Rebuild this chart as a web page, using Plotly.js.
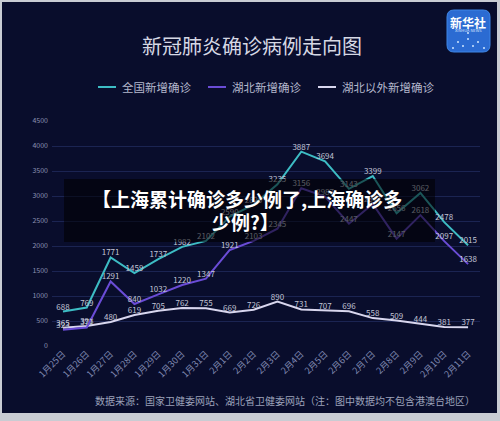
<!DOCTYPE html>
<html>
<head>
<meta charset="utf-8">
<script src="https://cdn.plot.ly/plotly-3.0.1.min.js"></script>
<style>html,body{margin:0;padding:0;background:#c9ccd3;}#chart{width:500px;height:421px;}</style>
</head>
<body>
<div id="chart"></div>
<script>
const dates = ['1月25日','1月26日','1月27日','1月28日','1月29日','1月30日','1月31日','2月1日','2月2日','2月3日','2月4日','2月5日','2月6日','2月7日','2月8日','2月9日','2月10日','2月11日'];
const national = [688, 769, 1771, 1459, 1737, 1982, 2102, 2590, 2829, 3235, 3887, 3694, 3143, 3399, 2656, 3062, 2478, 2015];
const hubei = [323, 371, 1291, 840, 1032, 1220, 1347, 1921, 2103, 2345, 3156, 2987, 2447, 2841, 2147, 2618, 2097, 1638];
const outside = [365, 398, 480, 619, 705, 762, 755, 669, 726, 890, 731, 707, 696, 558, 509, 444, 381, 377];
const yTicks = [0, 500, 1000, 1500, 2000, 2500, 3000, 3500, 4000, 4500];
const seriesNames = ['全国新增确诊', '湖北新增确诊', '湖北以外新增确诊'];
const titleText = '新冠肺炎确诊病例走向图';
const sourceText = '数据来源：国家卫健委网站、湖北省卫健委网站（注：图中数据均不包含港澳台地区）';
const bannerLines = ['【上海累计确诊多少例了,上海确诊多', '少例?】'];

const W = 500, H = 421;
const M = {l: 52, r: 20, t: 121, b: 75};
const PW = W - M.l - M.r, PH = H - M.t - M.b;
const px = x => (x - M.l) / PW;
const py = y => (H - M.b - y) / PH;

const colors = {national: '#3dbcc4', hubei: '#6a4cd6', outside: '#d8d6ee'};
const font = 'Noto Sans CJK SC, Noto Sans, sans-serif';
const labelFont = {family: font, size: 8, color: '#c2c5d6'};

const mk = (y, name, color) => ({
  type: 'scatter', mode: 'lines+text', x: dates, y: y, name: name,
  text: y.map(String), textposition: 'top center', textfont: labelFont,
  line: {color: color, width: 2}, cliponaxis: false, hoverinfo: 'skip'
});
const traces = [
  mk(outside, seriesNames[2], colors.outside),
  mk(hubei, seriesNames[1], colors.hubei),
  mk(national, seriesNames[0], colors.national)
];

function roundRect(x0, y0, x1, y1, r) {
  const X = v => px(v), Y = v => py(v);
  return `M ${X(x0 + r)} ${Y(y0)} L ${X(x1 - r)} ${Y(y0)} Q ${X(x1)} ${Y(y0)} ${X(x1)} ${Y(y0 + r)} ` +
         `L ${X(x1)} ${Y(y1 - r)} Q ${X(x1)} ${Y(y1)} ${X(x1 - r)} ${Y(y1)} L ${X(x0 + r)} ${Y(y1)} ` +
         `Q ${X(x0)} ${Y(y1)} ${X(x0)} ${Y(y1 - r)} L ${X(x0)} ${Y(y0 + r)} Q ${X(x0)} ${Y(y0)} ${X(x0 + r)} ${Y(y0)} Z`;
}

const shapes = [
  // dark background panel inside grey frame
  {type: 'rect', xref: 'paper', yref: 'paper', layer: 'below',
   x0: px(2), x1: px(497), y0: py(413), y1: py(2),
   fillcolor: '#090d2c', line: {width: 0}},
  // legend samples
  {type: 'line', xref: 'paper', yref: 'paper', x0: px(98), x1: px(116), y0: py(87), y1: py(87), line: {color: colors.national, width: 2}},
  {type: 'line', xref: 'paper', yref: 'paper', x0: px(208), x1: px(226), y0: py(87), y1: py(87), line: {color: colors.hubei, width: 2}},
  {type: 'line', xref: 'paper', yref: 'paper', x0: px(318), x1: px(336), y0: py(87), y1: py(87), line: {color: colors.outside, width: 2}},
  // logo
  {type: 'path', xref: 'paper', yref: 'paper', path: roundRect(447, 10, 490, 52, 7),
   fillcolor: '#2b6bd2', line: {color: '#3f86e6', width: 1}},
  // overlay banner
  {type: 'rect', xref: 'paper', yref: 'paper', layer: 'above',
   x0: px(64), x1: px(435), y0: py(242), y1: py(179),
   fillcolor: 'rgba(0,0,0,0.55)', line: {width: 0}}
];
// logo network dots
[[458,42],[468,39],[478,42],[453,48],[463,46],[473,46],[484,48],[468,33]].forEach(p => {
  shapes.push({type: 'circle', xref: 'paper', yref: 'paper',
    x0: px(p[0] - 1), x1: px(p[0] + 1), y0: py(p[1] + 1), y1: py(p[1] - 1),
    fillcolor: '#cfe6ff', line: {width: 0}});
});

const ann = (x, y, text, size, color, extra) => Object.assign({
  xref: 'paper', yref: 'paper', x: px(x), y: py(y), text: text, showarrow: false,
  xanchor: 'center', yanchor: 'middle', font: {family: font, size: size, color: color}
}, extra || {});

const annotations = [
  ann(252, 45, titleText, 20, '#d6d8e4'),
  ann(120, 87, seriesNames[0], 11.5, '#b4b8cc', {xanchor: 'left'}),
  ann(230, 87, seriesNames[1], 11.5, '#b4b8cc', {xanchor: 'left'}),
  ann(340, 87, seriesNames[2], 11.5, '#b4b8cc', {xanchor: 'left'}),
  ann(285, 400, sourceText, 10, '#9ca2ba'),
  ann(468, 22, '<b>新华社</b>', 12, '#ffffff'),
  ann(468, 30, 'XINHUA NEWS', 4, '#dfe9ff'),
  ann(247, 198, '<b>' + bannerLines[0] + '</b>', 19, '#ffffff'),
  ann(245, 221, '<b>' + bannerLines[1] + '</b>', 19, '#ffffff')
];

const layout = {
  width: W, height: H, autosize: false,
  margin: M,
  paper_bgcolor: '#c9ccd3', plot_bgcolor: 'rgba(0,0,0,0)',
  font: {family: font},
  showlegend: false,
  xaxis: {
    type: 'category', range: [-0.46, 17.5], showgrid: false, zeroline: false, showline: false,
    ticks: '', tickangle: -45, tickfont: {family: font, size: 9, color: '#7f88b0'}, fixedrange: true
  },
  yaxis: {
    range: [0, 4500], tickvals: yTicks, ticktext: yTicks.map(String), showgrid: true,
    gridcolor: '#1b2452', gridwidth: 1, zeroline: false, showline: false, ticks: '',
    tickfont: {family: font, size: 7, color: '#8a91b2'}, ticklabelstandoff: 3, fixedrange: true
  },
  shapes: shapes,
  annotations: annotations
};

Plotly.newPlot('chart', traces, layout, {displayModeBar: false, staticPlot: true});
</script>
</body>
</html>
